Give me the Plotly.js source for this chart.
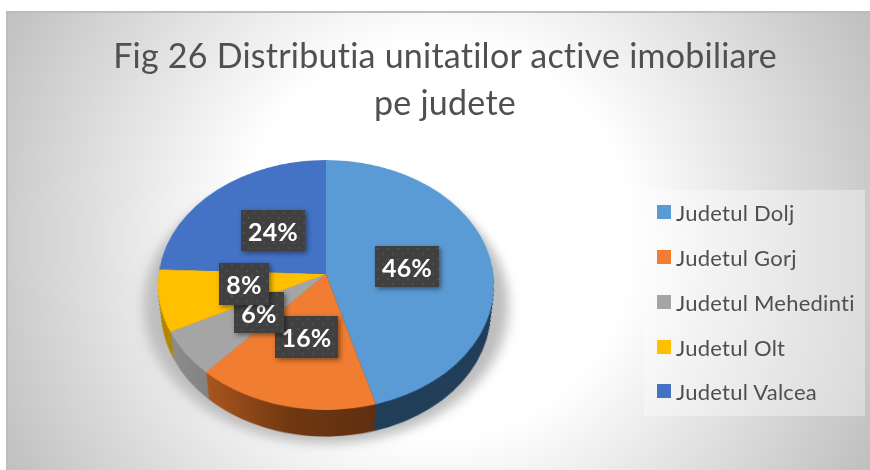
<!DOCTYPE html>
<html>
<head>
<meta charset="utf-8">
<script src="https://cdn.plot.ly/plotly-3.0.1.min.js"></script>
<style>
html,body{margin:0;padding:0;background:#fff;width:870px;height:470px;overflow:hidden}
#bg{position:absolute;left:6px;top:11px;width:862px;height:457px;border-left:2px solid #bdbdbd;border-top:2px solid #bdbdbd;
background:radial-gradient(circle 490px at 427px 227px,#fff 40%,#bfbfbf 100%)}
#chart{position:absolute;left:0;top:0;width:870px;height:470px}
svg text{font-variant-ligatures:none;letter-spacing:0.24px}
</style>
</head>
<body>
<div id="bg"></div>
<svg style="position:absolute;width:0;height:0" aria-hidden="true">
  <defs>
    <filter id="soft" x="-20%" y="-20%" width="140%" height="140%"><feGaussianBlur stdDeviation="6"/></filter>
    <filter id="boxShadow" x="-20%" y="-20%" width="150%" height="150%"><feDropShadow dx="2" dy="2" stdDeviation="2.5" flood-color="#000" flood-opacity="0.45"/></filter>
    <pattern id="dots" width="10" height="10" patternUnits="userSpaceOnUse">
      <rect width="10" height="10" fill="#404040"/><circle cx="3" cy="3" r="1" fill="#525252"/><circle cx="8" cy="8" r="1" fill="#525252"/>
    </pattern>
    <linearGradient id="sideOrange" x1="0" x2="1" y1="0" y2="0"><stop offset="0" stop-color="#a9551f"/><stop offset="0.5" stop-color="#703811"/><stop offset="1" stop-color="#5f2f10"/></linearGradient>
    <linearGradient id="sideGray" x1="0" x2="1" y1="0" y2="0"><stop offset="0" stop-color="#8c8c8c"/><stop offset="1" stop-color="#666666"/></linearGradient>
  </defs>
</svg>
<div id="chart"></div>
<script>
var categories = ['Judetul Dolj','Judetul Gorj','Judetul Mehedinti','Judetul Olt','Judetul Valcea'];
var shares = [45.6,16.1,5.9,8.0,24.4];
var topColors = ['#5B9BD5','#F07D32','#A5A5A5','#FFC000','#4472C4'];
var sideColors = ['#213F59','#7A3D14','#7A7A7A','#B38600','#2A4A80'];
var titleText = 'Fig 26 Distributia unitatilor active imobiliare<br>pe judete';

// pixel layout of the chart
var W = 870, H = 470, CX = 326, CY = 200, R = 168;
var labelBoxes = [ // left, top, width, height; stacking order as in the picture
  {i:0,x:375,y:246,w:64,h:41},
  {i:4,x:241,y:210,w:64,h:41},
  {i:1,x:275,y:316,w:63,h:42},
  {i:2,x:234,y:292,w:50,h:41},
  {i:3,x:219,y:263,w:50,h:42}
];
var legendRows = [22,67,112,157,201];

function disc(cy, r, colors, showLegend){
  return {type:'pie',labels:categories,values:shares,sort:false,direction:'clockwise',rotation:0,
    textinfo:'none',hoverinfo:'skip',showlegend:showLegend,
    marker:{colors:colors,line:{width:0}},
    domain:{x:[(CX-r)/W,(CX+r)/W],y:[1-(cy+r)/H,1-(cy-r)/H]}};
}
var traces = [disc(CY+25,180,['#bdbdbd','#bdbdbd','#bdbdbd','#bdbdbd','#bdbdbd'],false)];
for(var d=36;d>0;d-=1.5){ traces.push(disc(CY+d,R-d*6.5/36,sideColors,false)); }
traces.push(disc(CY,R,topColors,true));

var annotations = labelBoxes.map(function(b){
  return {xref:'paper',yref:'paper',x:b.x/W,y:1-b.y/H,xanchor:'left',yanchor:'top',
    width:b.w,height:b.h,borderpad:0,borderwidth:0,showarrow:false,align:'center',valign:'middle',
    bgcolor:'#404040',text:'<b>'+Math.round(shares[b.i])+'%</b>',
    font:{family:'Lato, sans-serif',size:25,color:'#ffffff'}};
});

var layout = {
  width:W,height:H,margin:{l:0,r:0,t:0,b:0},
  paper_bgcolor:'rgba(0,0,0,0)',plot_bgcolor:'rgba(0,0,0,0)',
  font:{family:'Lato, sans-serif',color:'#595959'},
  title:{text:titleText,x:445/W,xanchor:'center',xref:'paper',y:1-68/H,yref:'container',yanchor:'top',
    font:{family:'Lato, sans-serif',size:34,color:'#505050'}},
  showlegend:true,
  legend:{x:644/W,y:1-190/H,xanchor:'left',yanchor:'top',bgcolor:'rgba(255,255,255,0.35)',borderwidth:0,
    traceorder:'normal',font:{family:'Lato, sans-serif',size:22,color:'#4f4f4f'}},
  annotations:annotations
};

Plotly.newPlot('chart',traces,layout,{displayModeBar:false,staticPlot:true}).then(function(gd){
  // tilt the flat discs into the perspective of the picture
  var svg = gd.querySelectorAll('.main-svg')[0];
  var Y0 = 274, s = 167.3/R, k = 124/R, a = 0.088/R, w0 = 1 + a*CY;
  svg.style.transformOrigin = '0 0';
  svg.style.transform = 'matrix3d('+[s,0,0,0, -CX*a,k-Y0*a,0,-a, 0,0,1,0, CX*w0-s*CX,Y0*w0-k*CY,0,w0].join(',')+')';
  svg.style.overflow = 'visible';

  var groups = gd.querySelectorAll('.pielayer .trace');
  groups[0].setAttribute('filter','url(#soft)');
  for(var g=1;g<groups.length-1;g++){
    var paths = groups[g].querySelectorAll('path.surface');
    paths[1].style.fill = 'url(#sideOrange)';
    paths[2].style.fill = 'url(#sideGray)';
  }
  // second title line sits a little lower than the default line height
  var lines = gd.querySelectorAll('.gtitle tspan.line');
  if(lines[1]){ lines[1].setAttribute('dy','47'); }
  // labels
  gd.querySelectorAll('.annotation rect.bg').forEach(function(r){
    r.style.fill = 'url(#dots)';
    r.setAttribute('filter','url(#boxShadow)');
  });
  // legend
  var leg = gd.querySelector('.legend');
  var box = leg.querySelector('rect.bg');
  box.setAttribute('width',221); box.setAttribute('height',226);
  var sb = leg.querySelector('.scrollbox');
  sb.removeAttribute('clip-path');
  leg.querySelectorAll('.traces').forEach(function(t,i){
    t.setAttribute('transform','translate(0,'+legendRows[i]+')');
    var tx = t.querySelector('text.legendtext');
    tx.setAttribute('x',32);
    var p = t.querySelector('path.legendpie');
    if(p){ p.setAttribute('transform','translate(20,0) scale(1.17)'); p.style.transform=''; }
  });
});
</script>
</body>
</html>
